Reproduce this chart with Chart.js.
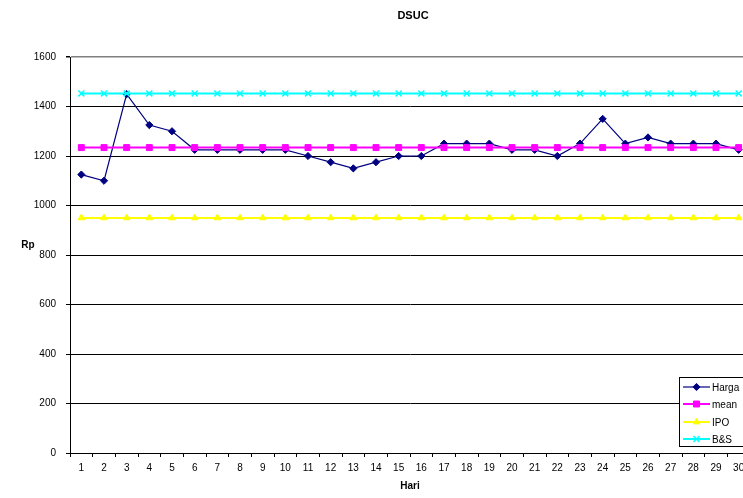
<!DOCTYPE html>
<html>
<head>
<meta charset="utf-8">
<script src="https://cdn.jsdelivr.net/npm/chart.js@4/dist/chart.umd.min.js"></script>
<style>
  body { margin: 0; overflow: hidden; background: #fff; font-family: "Liberation Sans", Arial, sans-serif; }
  #wrap { position: relative; width: 743px; height: 498px; overflow: hidden; }
  #title { position: absolute; left: 0; top: 8px; width: 826px; text-align: center; font-weight: bold; font-size: 11px; line-height: 14px; }
  #ylab { position: absolute; left: 28px; top: 244px; transform: translate(-50%, -50%); font-weight: bold; font-size: 10px; }
  #legend { position: absolute; left: 679px; top: 377px; width: 80px; height: 68px; border: 1px solid #000; background: #fff; }
  .item { position: absolute; left: 3px; height: 12px; display: flex; align-items: center; font-size: 10px; }
  .item canvas { margin-right: 2px; }
</style>
</head>
<body>
<div id="wrap">
  <canvas id="chart" width="760" height="498"></canvas>
  <div id="title">DSUC</div>
  <div id="ylab">Rp</div>
  <div id="legend"></div>
</div>
<script>
// data
const days = ['1','2','3','4','5','6','7','8','9','10','11','12','13','14','15','16','17','18','19','20','21','22','23','24','25','26','27','28','29','30'];
const harga = [1125,1100,1450,1325,1300,1225,1225,1225,1225,1225,1200,1175,1150,1175,1200,1200,1250,1250,1250,1225,1225,1200,1250,1350,1250,1275,1250,1250,1250,1225];
const mean = [1234,1234,1234,1234,1234,1234,1234,1234,1234,1234,1234,1234,1234,1234,1234,1234,1234,1234,1234,1234,1234,1234,1234,1234,1234,1234,1234,1234,1234,1234];
const ipo = [950,950,950,950,950,950,950,950,950,950,950,950,950,950,950,950,950,950,950,950,950,950,950,950,950,950,950,950,950,950];
const bns = [1453,1453,1453,1453,1453,1453,1453,1453,1453,1453,1453,1453,1453,1453,1453,1453,1453,1453,1453,1453,1453,1453,1453,1453,1453,1453,1453,1453,1453,1453];
const seriesNames = ['Harga', 'mean', 'IPO', 'B&S'];

const styles = [
    { color: '#000080', point: 'rectRot', radius: 3.6, line: 1.2, bw: 1 },
    { color: '#FF00FF', point: 'rect', radius: 4.2, line: 2, bw: 1 },
    { color: '#FFFF00', point: 'triangle', radius: 3.8, line: 2, bw: 1 },
    { color: '#00FFFF', point: 'crossRot', radius: 4.2, line: 2, bw: 1.5 }
];
const allData = [harga, mean, ipo, bns];

const font = { family: '"Liberation Sans", Arial, sans-serif', size: 10 };

const datasets = allData.map((d, i) => ({
    label: seriesNames[i],
    data: d,
    borderColor: styles[i].color,
    backgroundColor: styles[i].color,
    borderWidth: styles[i].line,
    pointStyle: styles[i].point,
    pointRadius: styles[i].radius,
    pointBorderWidth: styles[i].bw,
    pointBackgroundColor: styles[i].color,
    pointBorderColor: styles[i].color,
    tension: 0,
    order: 4 - i
}));

new Chart(document.getElementById('chart'), {
    type: 'line',
    data: { labels: days, datasets: datasets },
    options: {
        responsive: false,
        animation: false,
        layout: { padding: { top: 57, right: 10, left: 0, bottom: 0 } },
        plugins: { legend: { display: false }, tooltip: { enabled: false } },
        scales: {
            x: {
                offset: true,
                grid: { offset: true, drawOnChartArea: false, drawTicks: true, tickLength: 4, color: '#000' },
                border: { display: true, color: '#000', width: 1 },
                ticks: { color: '#000', font: font, padding: 5, autoSkip: false, maxRotation: 0 },
                title: { display: true, text: 'Hari', color: '#000', font: { family: font.family, size: 10, weight: 'bold' }, padding: { top: 0, bottom: 6 } },
                afterFit: s => { s.height = 45; }
            },
            y: {
                min: 0, max: 1600,
                ticks: { stepSize: 200, color: '#000', font: font, padding: 10, callback: v => v },
                grid: {
                    color: c => (c.tick && c.tick.value === 1600) ? '#808080' : '#000',
                    lineWidth: c => (c.tick && c.tick.value === 1600) ? 1.5 : 1,
                    tickLength: 4, tickColor: '#000'
                },
                border: { display: true, color: '#000', width: 1 },
                afterFit: s => { s.width = 70; }
            }
        }
    }
});

// legend
const legendEl = document.getElementById('legend');
const tops = [3, 20, 38, 55];
seriesNames.forEach((name, i) => {
    const item = document.createElement('div');
    item.className = 'item';
    item.style.top = tops[i] + 'px';
    const sw = document.createElement('canvas');
    sw.width = 27; sw.height = 12;
    const ctx = sw.getContext('2d');
    ctx.strokeStyle = styles[i].color;
    ctx.fillStyle = styles[i].color;
    ctx.lineWidth = styles[i].line;
    ctx.beginPath(); ctx.moveTo(0, 6); ctx.lineTo(27, 6); ctx.stroke();
    ctx.lineWidth = styles[i].bw;
    if (Chart.helpers && Chart.helpers.drawPoint) {
        Chart.helpers.drawPoint(ctx, { pointStyle: styles[i].point, radius: styles[i].radius, rotation: 0, borderWidth: styles[i].bw }, 13.5, 6);
    }
    const txt = document.createElement('span');
    txt.textContent = name;
    item.append(sw, txt);
    legendEl.appendChild(item);
});
</script>
</body>
</html>
